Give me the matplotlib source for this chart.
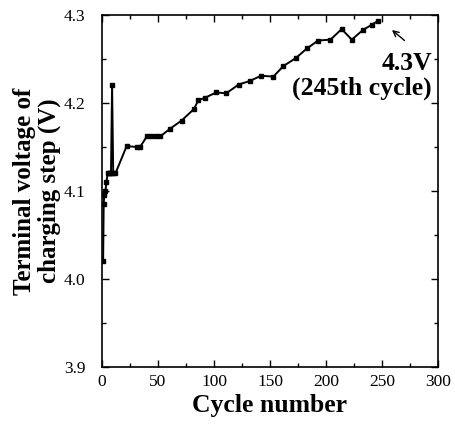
import matplotlib
matplotlib.use("Agg")
from matplotlib import pyplot as plt
from matplotlib.ticker import MultipleLocator, FormatStrFormatter

cycles = [1, 1.5, 2, 3, 4, 5, 6, 7, 8, 9, 10, 12,
          22, 31, 34, 40, 44, 48, 52, 61, 71, 82, 86, 92,
          102, 111, 122, 132, 142, 153, 162, 173, 183, 193,
          204, 214, 223, 233, 241, 246]
voltage = [4.02, 4.085, 4.095, 4.10, 4.11, 4.12, 4.12, 4.12, 4.12, 4.22, 4.12, 4.12,
           4.151, 4.15, 4.15, 4.162, 4.162, 4.162, 4.162, 4.171, 4.18, 4.193, 4.203, 4.206,
           4.212, 4.211, 4.221, 4.225, 4.231, 4.23, 4.242, 4.251, 4.262, 4.271,
           4.272, 4.284, 4.272, 4.283, 4.289, 4.293]

x_ticks = [0, 50, 100, 150, 200, 250, 300]
y_ticks = [3.9, 4.0, 4.1, 4.2, 4.3]

serif = ["Liberation Serif", "DejaVu Serif"]

fig = plt.figure(figsize=(4.56, 4.25), dpi=100)
ax = fig.add_axes([0.2237, 0.1365, 0.7368, 0.8282])

ax.plot(cycles, voltage, color="black", lw=1.4, marker="s", ms=3.5)

ax.set_xlim(0, 300)
ax.set_ylim(3.9, 4.3)
ax.set_xticks(x_ticks)
ax.set_yticks(y_ticks)
ax.xaxis.set_minor_locator(MultipleLocator(25))
ax.yaxis.set_minor_locator(MultipleLocator(0.05))
ax.yaxis.set_major_formatter(FormatStrFormatter("%.1f"))
ax.tick_params(which="both", direction="in", top=True, right=True, width=1)
ax.tick_params(which="major", length=5, labelsize=12.5)
ax.tick_params(axis="x", which="major", pad=5)
ax.tick_params(axis="y", which="major", pad=12)
ax.tick_params(which="minor", length=3)
for lab in ax.get_xticklabels() + ax.get_yticklabels():
    lab.set_family(serif)
for s in ax.spines.values():
    s.set_linewidth(1.2)

ax.set_xlabel("Cycle number", family=serif, fontweight="bold", fontsize=18.5, labelpad=3)
ax.set_ylabel("Terminal voltage of\ncharging step (V)", family=serif,
              fontweight="bold", fontsize=18, linespacing=1.1, labelpad=2)

ax.annotate("", xy=(257, 4.285), xytext=(272, 4.269),
            arrowprops=dict(arrowstyle="->", color="black", lw=1))
ax.text(294.5, 4.245, "4.3V", family=serif, fontweight="bold", fontsize=18.5,
        ha="right", va="center")
ax.text(294.5, 4.217, "(245th cycle)", family=serif, fontweight="bold", fontsize=18.5,
        ha="right", va="center")

fig.savefig("out.png", dpi=100)
